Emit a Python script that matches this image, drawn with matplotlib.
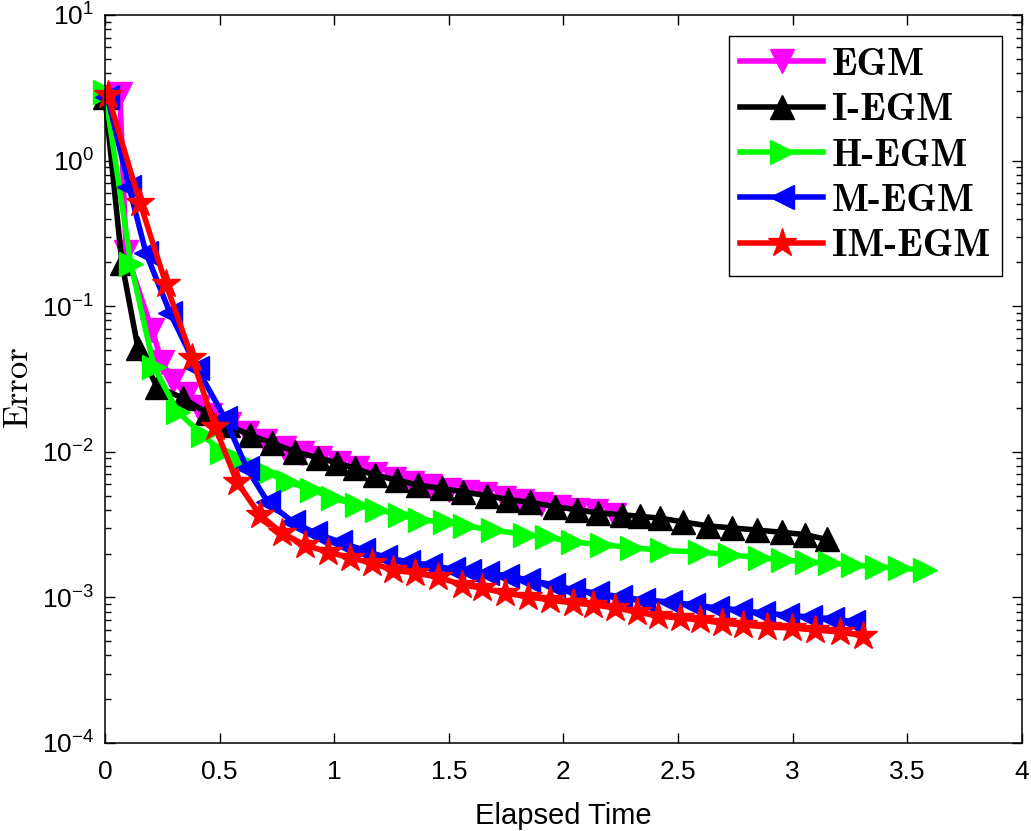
import matplotlib
matplotlib.use('Agg')
import matplotlib.pyplot as plt
from matplotlib.ticker import FixedLocator, FuncFormatter, LogLocator, NullLocator

plt.rcParams['font.family'] = ['Liberation Sans', 'DejaVu Sans']
plt.rcParams['mathtext.fontset'] = 'custom'
plt.rcParams['mathtext.rm'] = 'Liberation Sans'
plt.rcParams['mathtext.default'] = 'regular'

# ---- data (elapsed time, error) ----
labels = ['EGM', 'I-EGM', 'H-EGM', 'M-EGM', 'IM-EGM']

t_egm = [0.065, 0.092, 0.205, 0.249, 0.297, 0.358, 0.406, 0.46, 0.54, 0.62,
         0.70, 0.78, 0.86, 0.94, 1.02, 1.10, 1.18, 1.26, 1.34, 1.42, 1.50,
         1.58, 1.66, 1.74, 1.82, 1.90, 1.98, 2.06, 2.14, 2.22]
e_egm = [2.87, 0.235, 0.0686, 0.0414, 0.0306, 0.0249, 0.0203, 0.0178, 0.0155,
         0.0134, 0.0119, 0.0107, 0.0098, 0.0091, 0.0084, 0.0077, 0.0070, 0.0065,
         0.0061, 0.0058, 0.0055, 0.0053, 0.0051, 0.0048, 0.0046, 0.0044, 0.0042,
         0.0040, 0.0039, 0.0037]

t_iegm = [0.0, 0.074, 0.144, 0.227, 0.340, 0.445, 0.537, 0.632, 0.728, 0.829,
          0.929, 1.012, 1.091, 1.178, 1.274, 1.365, 1.470, 1.562, 1.666, 1.758,
          1.854, 1.963, 2.059, 2.150, 2.255, 2.334, 2.421, 2.521, 2.630, 2.735,
          2.844, 2.953, 3.053, 3.149]
e_iegm = [2.73, 0.198, 0.0516, 0.0279, 0.0234, 0.0185, 0.0153, 0.0130, 0.0115,
          0.0100, 0.0091, 0.0084, 0.0077, 0.0069, 0.0064, 0.0059, 0.0056, 0.0053,
          0.0050, 0.0047, 0.0045, 0.0042, 0.0040, 0.0038, 0.0037, 0.0036, 0.0035,
          0.0033, 0.0031, 0.0030, 0.0029, 0.0028, 0.0027, 0.0025]

t_hegm = [0.0, 0.113, 0.214, 0.318, 0.427, 0.510, 0.602, 0.707, 0.798, 0.903,
          0.995, 1.099, 1.186, 1.287, 1.374, 1.483, 1.570, 1.693, 1.832, 1.928,
          2.041, 2.168, 2.299, 2.430, 2.595, 2.726, 2.857, 2.957, 3.062, 3.162,
          3.263, 3.368, 3.468, 3.577]
e_hegm = [2.95, 0.195, 0.0382, 0.0188, 0.0130, 0.0100, 0.0085, 0.0072, 0.0062,
          0.0055, 0.0048, 0.0043, 0.0040, 0.0037, 0.0034, 0.0033, 0.0031, 0.0029,
          0.0027, 0.0026, 0.0024, 0.0023, 0.0022, 0.0021, 0.00205, 0.00196,
          0.00187, 0.00181, 0.00175, 0.00172, 0.00167, 0.00162, 0.00159, 0.00154]

t_megm = [0.01, 0.105, 0.179, 0.284, 0.401, 0.523, 0.619, 0.711, 0.820, 0.916,
          1.025, 1.125, 1.221, 1.322, 1.418, 1.518, 1.590, 1.666, 1.754, 1.845,
          1.954, 2.041, 2.146, 2.246, 2.347, 2.465, 2.565, 2.670, 2.770, 2.870,
          2.975, 3.075, 3.171, 3.263]
e_megm = [2.75, 0.659, 0.232, 0.0898, 0.0376, 0.0171, 0.0077, 0.0045, 0.0033,
          0.00277, 0.0024, 0.00212, 0.00189, 0.00175, 0.00167, 0.00156, 0.00151,
          0.00147, 0.00141, 0.00132, 0.00122, 0.00113, 0.00107, 0.00101, 0.00096,
          0.00093, 0.00089, 0.000846, 0.00082, 0.00078, 0.000757, 0.000733,
          0.000715, 0.00068]

t_imegm = [0.013, 0.153, 0.266, 0.380, 0.480, 0.576, 0.676, 0.772, 0.872, 0.973,
           1.069, 1.165, 1.256, 1.352, 1.453, 1.557, 1.644, 1.745, 1.845, 1.941,
           2.041, 2.129, 2.225, 2.321, 2.412, 2.508, 2.595, 2.691, 2.783, 2.888,
           2.997, 3.097, 3.206, 3.306]
e_imegm = [2.8, 0.512, 0.142, 0.0441, 0.0148, 0.0062, 0.00368, 0.00277, 0.00229,
           0.00205, 0.00187, 0.00172, 0.00154, 0.00147, 0.00138, 0.00122, 0.00116,
           0.00107, 0.00101, 0.00096, 0.000915, 0.00089, 0.000846, 0.000794,
           0.000745, 0.000722, 0.0007, 0.000667, 0.000646, 0.000626, 0.000616,
           0.000597, 0.000579, 0.000545]

xs = [t_egm, t_iegm, t_hegm, t_megm, t_imegm]
ys = [e_egm, e_iegm, e_hegm, e_megm, e_imegm]
colors = ['#ff00ff', 'black', '#00ff00', '#0000ff', '#ff0000']
markers = ['v', '^', '>', '<', '*']
msizes = [17, 17, 17, 17, 21]

fig = plt.figure(figsize=(10.31, 8.31), dpi=100)
ax = fig.add_axes([0.1018, 0.1059, 0.8894, 0.8761])

for x, y, c, m, ms, lab in zip(xs, ys, colors, markers, msizes, labels):
    ax.plot(x, y, color=c, lw=4, marker=m, ms=ms, mfc=c, mec=c, mew=1,
            label=lab, clip_on=False)

ax.set_yscale('log')
ax.set_xlim(0, 4)
ax.set_ylim(1e-4, 1e1)
ax.xaxis.set_major_locator(FixedLocator([0, 0.5, 1, 1.5, 2, 2.5, 3, 3.5, 4]))
ax.xaxis.set_major_formatter(FuncFormatter(lambda v, p: '%g' % v))
ax.xaxis.set_minor_locator(NullLocator())
ax.yaxis.set_major_locator(LogLocator(base=10, numticks=10))
ax.yaxis.set_minor_locator(LogLocator(base=10, subs=range(2, 10), numticks=20))

ax.tick_params(which='both', direction='in', top=True, right=True,
               labelsize=19, width=1, color='black')
ax.tick_params(which='major', length=7, pad=8)
ax.tick_params(axis='x', which='major', pad=12)
ax.tick_params(which='minor', length=4.5)
for s in ax.spines.values():
    s.set_linewidth(1.1)

ax.set_xlabel('Elapsed Time', fontsize=21, labelpad=13)
ax.set_ylabel('Error', family='cmr10', fontsize=25)
ax.yaxis.set_label_coords(-0.077, 0.49)

leg = ax.legend(loc='upper right', bbox_to_anchor=(0.978, 0.971),
                borderaxespad=0, prop={'family': 'cmb10', 'size': 28},
                handlelength=2.13, handletextpad=0.22, labelspacing=0.26,
                borderpad=0.3, fancybox=False, framealpha=1,
                edgecolor='black')
leg.get_frame().set_linewidth(1.0)

fig.savefig('out.png', dpi=100)
